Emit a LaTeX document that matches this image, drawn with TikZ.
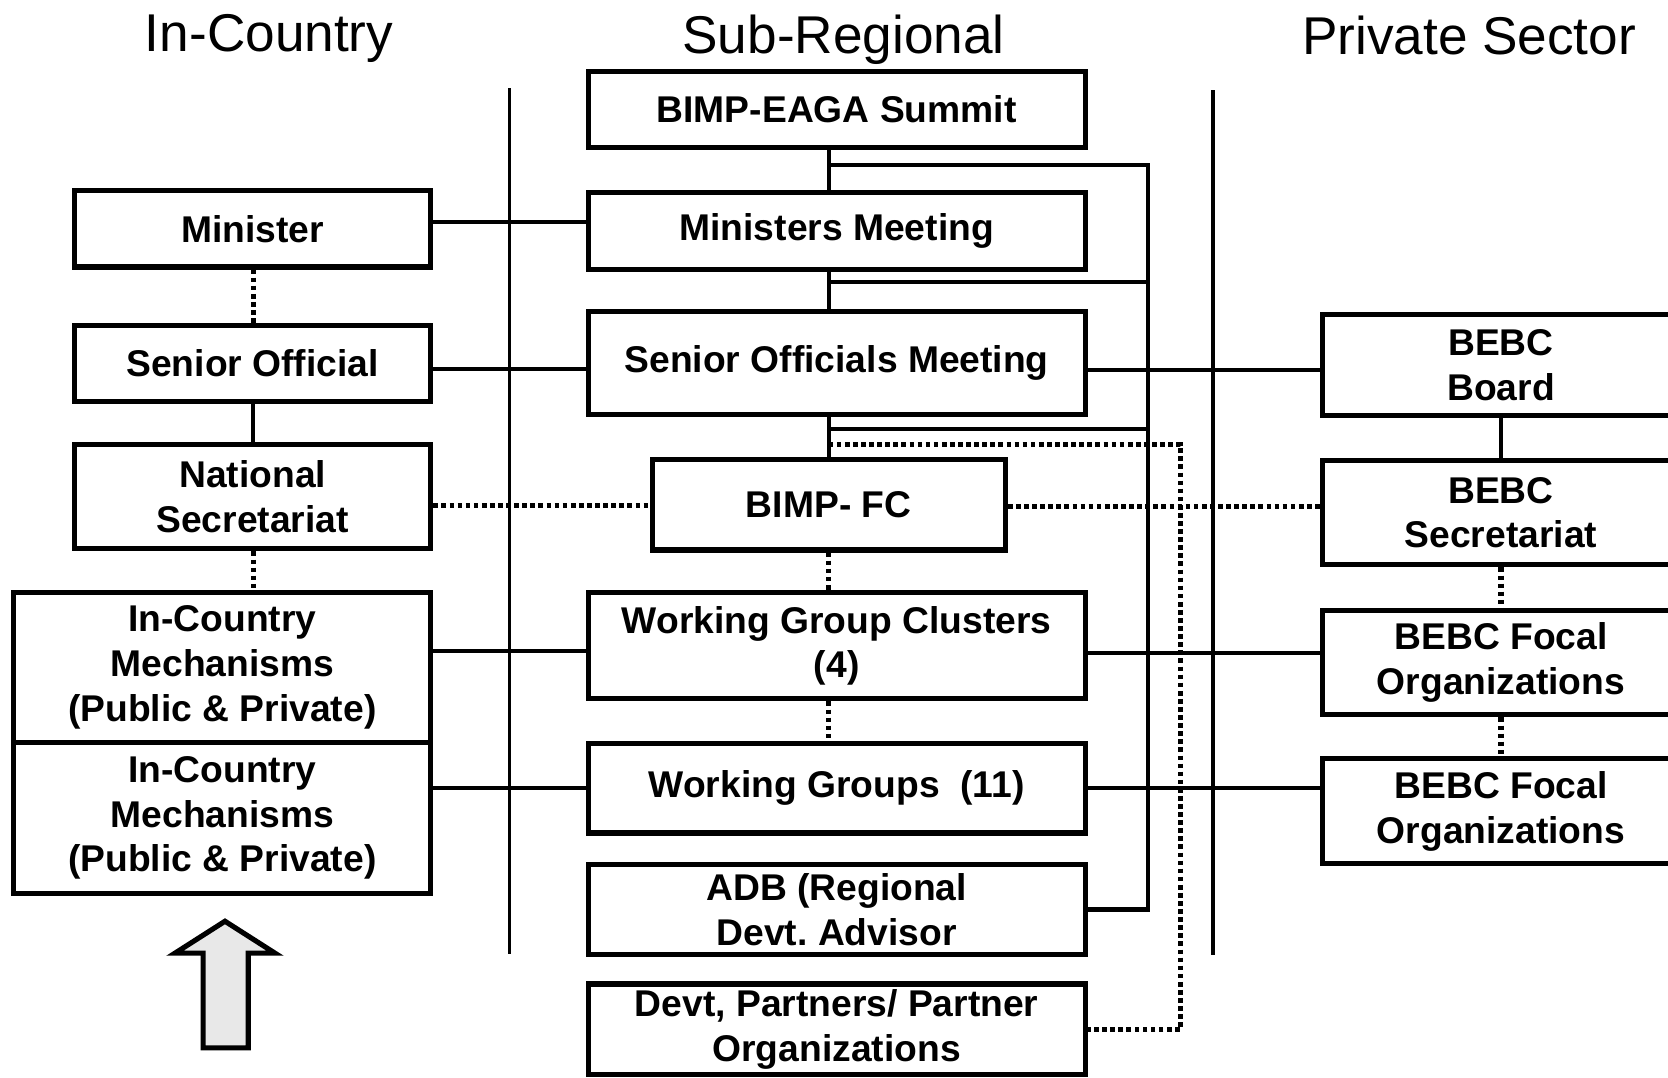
\documentclass[tikz,border=0pt]{standalone}
\usepackage{fontspec}
\setmainfont{Liberation Sans}
\usetikzlibrary{calc}
\begin{document}
\frenchspacing
\begin{tikzpicture}[x=0.5pt,y=-0.5pt,
  box/.style={draw,line width=2.4pt,fill=white,inner sep=0pt,align=center,
    font=\bfseries\fontsize{17.5}{21}\selectfont},
  ttl/.style={font=\fontsize{25}{30}\selectfont,inner sep=0pt,anchor=base},
  ln/.style={line width=2pt},
  dt/.style={line width=2.4pt,dash pattern=on 2.2pt off 1.6pt},
  sepline/.style={line width=1.8pt}]
\useasboundingbox (0,0) rectangle (1568,1013);

% titles
\node[ttl] (t1) at (253,48) {In-Country};
\node[ttl] (t2) at (793,50) {Sub-Regional};
\node[ttl] (t3) at (1381,51) {Private Sector};

% separators
\coordinate (s1t) at (479,83);
\coordinate (s1b) at (479,897);
\coordinate (s2t) at (1140,85);
\coordinate (s2b) at (1140,898);
\draw[sepline] (s1t) -- (s1b);
\draw[sepline] (s2t) -- (s2b);

% helper coordinates
\coordinate (sp) at (779,0);
\coordinate (lx) at (238,0);
\coordinate (bx) at (1079,0);
\coordinate (dx) at (1110,0);
\coordinate (j1) at (779,155);
\coordinate (j2) at (779,265);
\coordinate (j3) at (779,403);
\coordinate (j4) at (779,418);
\coordinate (h1) at (0,209);
\coordinate (h2) at (0,347);
\coordinate (h3) at (0,475);
\coordinate (h4) at (0,612);
\coordinate (h5) at (0,741);
\coordinate (h6) at (0,348);
\coordinate (h7) at (0,476);
\coordinate (h8) at (0,614);
\coordinate (h9) at (0,741);

% center column
\node[box,minimum width=233.5pt,minimum height=36pt] (sum) at (786.5,103) {BIMP-EAGA Summit};
\node[box,minimum width=233.5pt,minimum height=36pt] (mm) at (786.5,217) {Ministers Meeting};
\node[box,minimum width=233.5pt,minimum height=48.5pt] (som) at (786.5,341.5) {Senior Officials Meeting};
\node[box,minimum width=166pt,minimum height=42.5pt] (fc) at (779,474.5) {BIMP- FC};
\node[box,minimum width=233.5pt,minimum height=50pt] (wgc) at (786.5,607) {Working Group Clusters\\(4)};
\node[box,minimum width=233.5pt,minimum height=42pt] (wg) at (786.5,741) {Working Groups\ \ (11)};
\node[box,minimum width=233.5pt,minimum height=42pt] (adb) at (786.5,855) {ADB (Regional\\Devt. Advisor};
\node[box,minimum width=233.5pt,minimum height=42.5pt] (dp) at (786.5,967.5) {Devt, Partners/ Partner\\Organizations};

% left column
\node[box,minimum width=167.5pt,minimum height=36pt] (min) at (237.5,215) {Minister};
\node[box,minimum width=167.5pt,minimum height=35.5pt] (so) at (237.5,341.5) {Senior Official};
\node[box,minimum width=167.5pt,minimum height=49pt] (ns) at (237.5,467) {National\\Secretariat};
\node[box,minimum width=196pt,minimum height=70.5pt] (ic1) at (209,627.5) {In-Country\\Mechanisms\\(Public \& Private)};
\node[box,minimum width=196pt,minimum height=71pt] (ic2) at (209,769) {In-Country\\Mechanisms\\(Public \& Private)};

% right column
\node[box,minimum width=168pt,minimum height=47.5pt] (bb) at (1411,343.5) {BEBC\\Board};
\node[box,minimum width=168pt,minimum height=49pt] (bs) at (1411,482) {BEBC\\Secretariat};
\node[box,minimum width=168pt,minimum height=49pt] (bf1) at (1411,623) {BEBC Focal\\Organizations};
\node[box,minimum width=168pt,minimum height=49.5pt] (bf2) at (1411,762.5) {BEBC Focal\\Organizations};

% bracket lines
\draw[ln] (j1) -- (j1 -| bx) -- (adb.east -| bx) -- (adb.east);
\draw[ln] (j2) -- (j2 -| bx);
\draw[ln] (j3) -- (j3 -| bx);

% cross connectors
\draw[ln] (h1 -| min.east) -- (h1 -| mm.west);
\draw[ln] (h2 -| so.east) -- (h2 -| som.west);
\draw[ln] (h4 -| ic1.east) -- (h4 -| wgc.west);
\draw[ln] (h5 -| ic2.east) -- (h5 -| wg.west);
\draw[ln] (h6 -| som.east) -- (h6 -| bb.west);
\draw[ln] (h8 -| wgc.east) -- (h8 -| bf1.west);
\draw[ln] (h9 -| wg.east) -- (h9 -| bf2.west);

% spine
\draw[ln] (sum.south -| sp) -- (mm.north -| sp);
\draw[ln] (mm.south -| sp) -- (som.north -| sp);
\draw[ln] (som.south -| sp) -- (fc.north -| sp);
\draw[dt] (fc.south -| sp) -- (wgc.north -| sp);
\draw[dt] (wgc.south -| sp) -- (wg.north -| sp);

% dotted bracket
\draw[dt] (j4) -- (j4 -| dx) -- (dp.east -| dx) -- (dp.east);

% dotted cross connectors
\draw[dt] (h3 -| ns.east) -- (h3 -| fc.west);
\draw[dt] (h7 -| fc.east) -- (h7 -| bs.west);

% left vertical
\draw[dt] (min.south -| lx) -- (so.north -| lx);
\draw[ln] (so.south -| lx) -- (ns.north -| lx);
\draw[dt] (ns.south -| lx) -- (ic1.north -| lx);

% right vertical
\draw[ln] (bb.south) -- (bs.north);
\draw[dt] (bs.south) -- (bf1.north);
\draw[dt] (bf1.south) -- (bf2.north);

% arrow
\draw[line width=2.4pt,fill=gray!18,line join=miter] (191,985) -- (191,896) -- (164.5,896) -- (211.5,866) -- (258.5,896) -- (233.4,896) -- (233.4,985) -- cycle;
\end{tikzpicture}
\end{document}
